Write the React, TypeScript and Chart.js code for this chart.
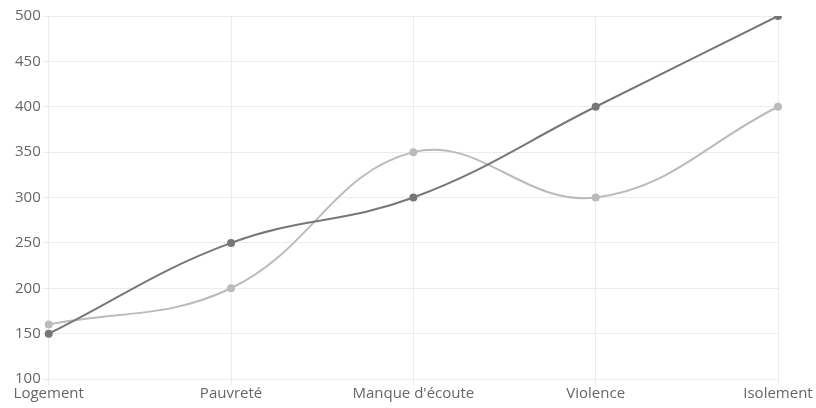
import React, { useEffect, useRef } from "react";
import { Chart, registerables } from "chart.js";
Chart.register(...registerables);

const categories = ["Logement", "Pauvreté", "Manque d'écoute", "Violence", "Isolement"];
const seriesDark = [150, 250, 300, 400, 500];
const seriesLight = [160, 200, 350, 300, 400];

export default function App() {
  const ref = useRef<HTMLCanvasElement>(null);
  useEffect(() => {
    const chart = new Chart(ref.current!, {
      type: "line",
      data: {
        labels: categories,
        datasets: [
          {
            label: "A",
            data: seriesDark,
            borderColor: "#777777",
            backgroundColor: "#777777",
            pointBackgroundColor: "#777777",
            pointBorderColor: "#777777",
            borderWidth: 2,
            pointRadius: 3,
            tension: 0.4,
            fill: false,
          },
          {
            label: "B",
            data: seriesLight,
            borderColor: "#bbbbbb",
            backgroundColor: "#bbbbbb",
            pointBackgroundColor: "#bbbbbb",
            pointBorderColor: "#bbbbbb",
            borderWidth: 2,
            pointRadius: 3,
            tension: 0.4,
            fill: false,
          },
        ],
      },
      options: {
        animation: false,
        responsive: true,
        maintainAspectRatio: false,
        layout: { padding: { top: 16, left: 13, right: 38, bottom: 5 } },
        plugins: { legend: { display: false }, tooltip: { enabled: false } },
        scales: {
          x: {
            offset: false,
            grid: { color: "#ececec", tickLength: 6 },
            border: { color: "#ececec" },
            ticks: { color: "#666", font: { family: "Open Sans", size: 15 }, padding: 0, maxRotation: 0 },
          },
          y: {
            min: 100,
            max: 500,
            grid: { color: "#ececec", tickLength: 6 },
            border: { color: "#ececec" },
            ticks: { stepSize: 50, color: "#666", font: { family: "Open Sans", size: 15 }, padding: 2 },
          },
        },
      },
    });
    return () => chart.destroy();
  }, []);
  return (
    <div style={{ position: "fixed", left: 0, top: 0, width: 816, height: 408 }}>
      <canvas ref={ref} />
    </div>
  );
}
